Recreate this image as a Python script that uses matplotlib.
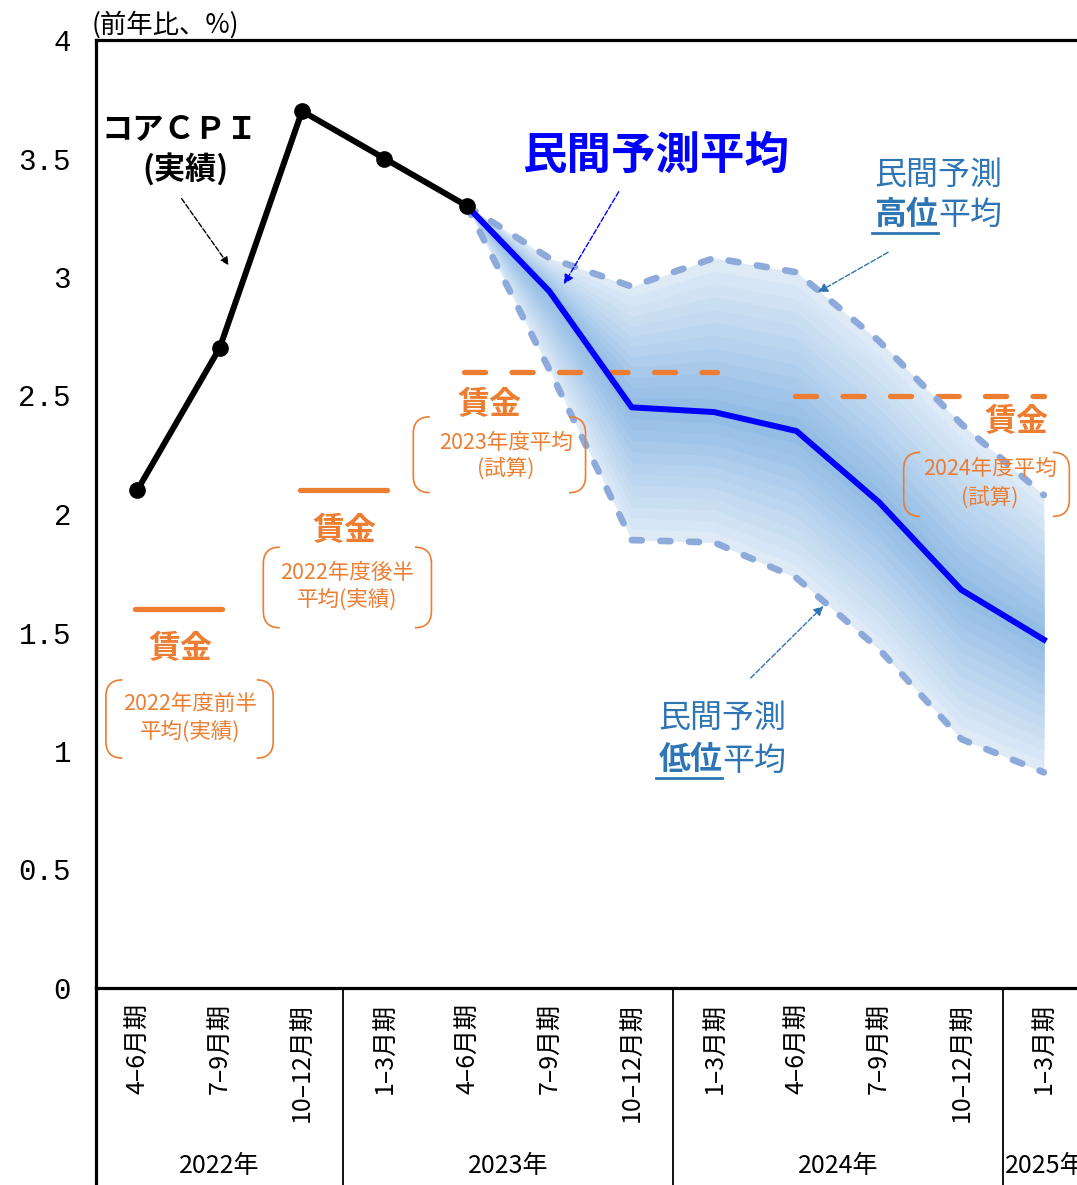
import numpy as np
import matplotlib
matplotlib.use("Agg")
from matplotlib import pyplot as plt
from matplotlib.path import Path
from matplotlib import patches
from matplotlib.transforms import blended_transform_factory

plt.rcParams['font.family'] = ['Noto Sans CJK JP', 'DejaVu Sans']

# quarters (x categories)
quarters = ["4–6月期", "7–9月期", "10–12月期",
            "1–3月期", "4–6月期", "7–9月期", "10–12月期",
            "1–3月期", "4–6月期", "7–9月期", "10–12月期",
            "1–3月期"]
years = ["2022年", "2023年", "2024年", "2025年"]
year_spans = [(0, 2), (3, 6), (7, 10), (11, 11)]

# core CPI actual (index 0..4)
cpi_actual = [2.1, 2.7, 3.7, 3.5, 3.3]

# private forecasts (index 4..11)
fc_x = [4, 5, 6, 7, 8, 9, 10, 11]
fc_avg = [3.3, 2.94, 2.45, 2.43, 2.35, 2.05, 1.68, 1.47]
fc_high = [3.3, 3.08, 2.96, 3.08, 3.02, 2.73, 2.38, 2.08]
fc_low = [3.3, 2.61, 1.89, 1.88, 1.73, 1.43, 1.05, 0.91]

# wages (value, start idx, end idx)
wage_vals = [1.6, 2.1, 2.6, 2.5]
wage_from = [-0.03, 1.97, 3.97, 7.98]
wage_to = [1.03, 3.03, 7.03, 11.0]
wage_dashed = [False, False, True, True]

orange = "#ed7d31"
lightblue = "#8eaadb"
midblue = "#2e75b6"

W, H = 1077, 1185
fig = plt.figure(figsize=(W / 100, H / 100), dpi=100)
ax = fig.add_axes([96 / W, 197 / H, (1085 - 96) / W, 948 / H])
ax.set_xlim(-0.5, 11.5)
ax.set_ylim(0, 4)

# gradient band between high and low
avg = np.array(fc_avg)
hi = np.array(fc_high)
lo = np.array(fc_low)
c_out = np.array([0.87, 0.92, 0.97])
c_in = np.array([0.58, 0.74, 0.90])
n = 12
for i in range(n):
    t = 1 - i / n
    col = c_out + (c_in - c_out) * (i / (n - 1))
    ax.fill_between(fc_x, avg + (hi - avg) * t, avg - (avg - lo) * t,
                    color=col, lw=0, zorder=1)

ax.plot(fc_x, fc_high, color=lightblue, lw=4.8, dashes=(1.5, 2.8),
        dash_capstyle="round", zorder=3)
ax.plot(fc_x, fc_low, color=lightblue, lw=4.8, dashes=(1.5, 2.8),
        dash_capstyle="round", zorder=3)
ax.plot(fc_x, fc_avg, color="#0000ff", lw=4.3, zorder=4)

ax.plot(range(len(cpi_actual)), cpi_actual, color="black", lw=4.3,
        marker="o", ms=11, zorder=5)

for v, a, b, d in zip(wage_vals, wage_from, wage_to, wage_dashed):
    if d:
        ax.plot([a, b], [v, v], color=orange, lw=3.8, dashes=(4, 5),
                dash_capstyle="round", zorder=2)
    else:
        ax.plot([a, b], [v, v], color=orange, lw=3.8, solid_capstyle="round",
                zorder=2)

# axes styling
for s in ["left", "top", "bottom"]:
    ax.spines[s].set_linewidth(2.3)
ax.spines["right"].set_visible(False)
ax.set_yticks(np.arange(0, 4.01, 0.5))
ax.set_yticklabels(["%g" % v for v in np.arange(0, 4.01, 0.5)],
                   family="Liberation Mono", fontsize=21)
ax.tick_params(axis="y", length=0, pad=18)
ax.set_xticks(range(len(quarters)))
ax.set_xticklabels(quarters, rotation=90, fontsize=18, va="top")
ax.tick_params(axis="x", length=0, pad=11)

# year separators and labels
tr = blended_transform_factory(ax.transData, fig.transFigure)
y0 = 197 / H
for xs in [-0.5, 2.5, 6.5, 10.5]:
    ax.plot([xs, xs], [y0, 0], transform=tr, color="black",
            lw=1.3 if xs > 0 else 2.3, clip_on=False)
for yl, (a, b) in zip(years, year_spans):
    ax.text((a + b) / 2 + (0.02 if a == b else 0), 1 - 1166 / H, yl,
            transform=tr, ha="center", va="center", fontsize=18,
            clip_on=False)

fig.text(92 / W, 1 - 25 / H, "(前年比、%)", fontsize=19, ha="left",
         va="center")

# annotations
ax.text(0.52, 3.62, "コアＣＰＩ", fontsize=22.5, weight="bold", ha="center",
        va="center")
ax.text(0.58, 3.45, "(実績)", fontsize=22.5, weight="bold", ha="center",
        va="center")
ax.annotate("", xy=(1.13, 3.04), xytext=(0.52, 3.34),
            arrowprops=dict(arrowstyle="-|>", ls="--", lw=1, color="black",
                            mutation_scale=12))

ax.text(6.30, 3.51, "民間予測平均", fontsize=32, weight="bold",
        color="#0000ff", ha="center", va="center")
ax.annotate("", xy=(5.16, 2.96), xytext=(5.86, 3.37),
            arrowprops=dict(arrowstyle="-|>", ls="--", lw=1, color="#0000ff",
                            mutation_scale=14))

ax.text(9.72, 3.43, "民間予測", fontsize=23, color=midblue, ha="center",
        va="center")
ax.text(9.72, 3.26, "高位", fontsize=23, weight="bold", color=midblue,
        ha="right", va="center")
ax.text(9.72, 3.26, "平均", fontsize=23, color=midblue, ha="left",
        va="center")
ax.plot([8.92, 9.72], [3.185, 3.185], color=midblue, lw=2)
ax.annotate("", xy=(8.23, 2.93), xytext=(9.14, 3.11),
            arrowprops=dict(arrowstyle="-|>", ls="--", lw=1, color=midblue,
                            mutation_scale=14))

ax.text(7.10, 1.14, "民間予測", fontsize=23, color=midblue, ha="center",
        va="center")
ax.text(7.10, 0.96, "低位", fontsize=23, weight="bold", color=midblue,
        ha="right", va="center")
ax.text(7.10, 0.96, "平均", fontsize=23, color=midblue, ha="left",
        va="center")
ax.plot([6.29, 7.10], [0.885, 0.885], color=midblue, lw=2)
ax.annotate("", xy=(8.35, 1.62), xytext=(7.42, 1.30),
            arrowprops=dict(arrowstyle="-|>", ls="--", lw=1, color=midblue,
                            mutation_scale=14))

# wage labels
wage_label_pos = [(0.52, 1.43), (2.52, 1.93), (4.28, 2.46), (10.67, 2.39)]
for x, y in wage_label_pos:
    ax.text(x, y, "賃金", fontsize=23, weight="bold", color=orange,
            ha="center", va="center", zorder=6)

box_text = [("2022年度前半", "平均(実績)"), ("2022年度後半", "平均(実績)"),
            ("2023年度平均", "(試算)"), ("2024年度平均", "(試算)")]
box_pos = [(0.64, 1.20, 1.08), (2.55, 1.75, 1.64), (4.47, 2.30, 2.19),
           (10.35, 2.19, 2.07)]
box_rect = [(-0.38, 1.65, 1.30, 0.97), (1.53, 3.57, 1.86, 1.52),
            (3.35, 5.44, 2.41, 2.09), (9.30, 11.31, 2.26, 1.99)]


def bracket(x0, x1, top, bot, rx=0.2, ry=0.07):
    for xe, sgn in [(x0, 1), (x1, -1)]:
        verts = [(xe + sgn * rx, top), (xe, top), (xe, top - ry),
                 (xe, bot + ry), (xe, bot), (xe + sgn * rx, bot)]
        codes = [Path.MOVETO, Path.CURVE3, Path.CURVE3, Path.LINETO,
                 Path.CURVE3, Path.CURVE3]
        ax.add_patch(patches.PathPatch(Path(verts, codes), fc="none",
                                       ec=orange, lw=1.2, zorder=6,
                                       clip_on=False))


for (l1, l2), (x, ya, yb), r in zip(box_text, box_pos, box_rect):
    ax.text(x, ya, l1, fontsize=15.5, color=orange, ha="center",
            va="center", zorder=6)
    ax.text(x, yb, l2, fontsize=15.5, color=orange, ha="center",
            va="center", zorder=6)
    bracket(*r)

fig.savefig("out.png", dpi=100)
